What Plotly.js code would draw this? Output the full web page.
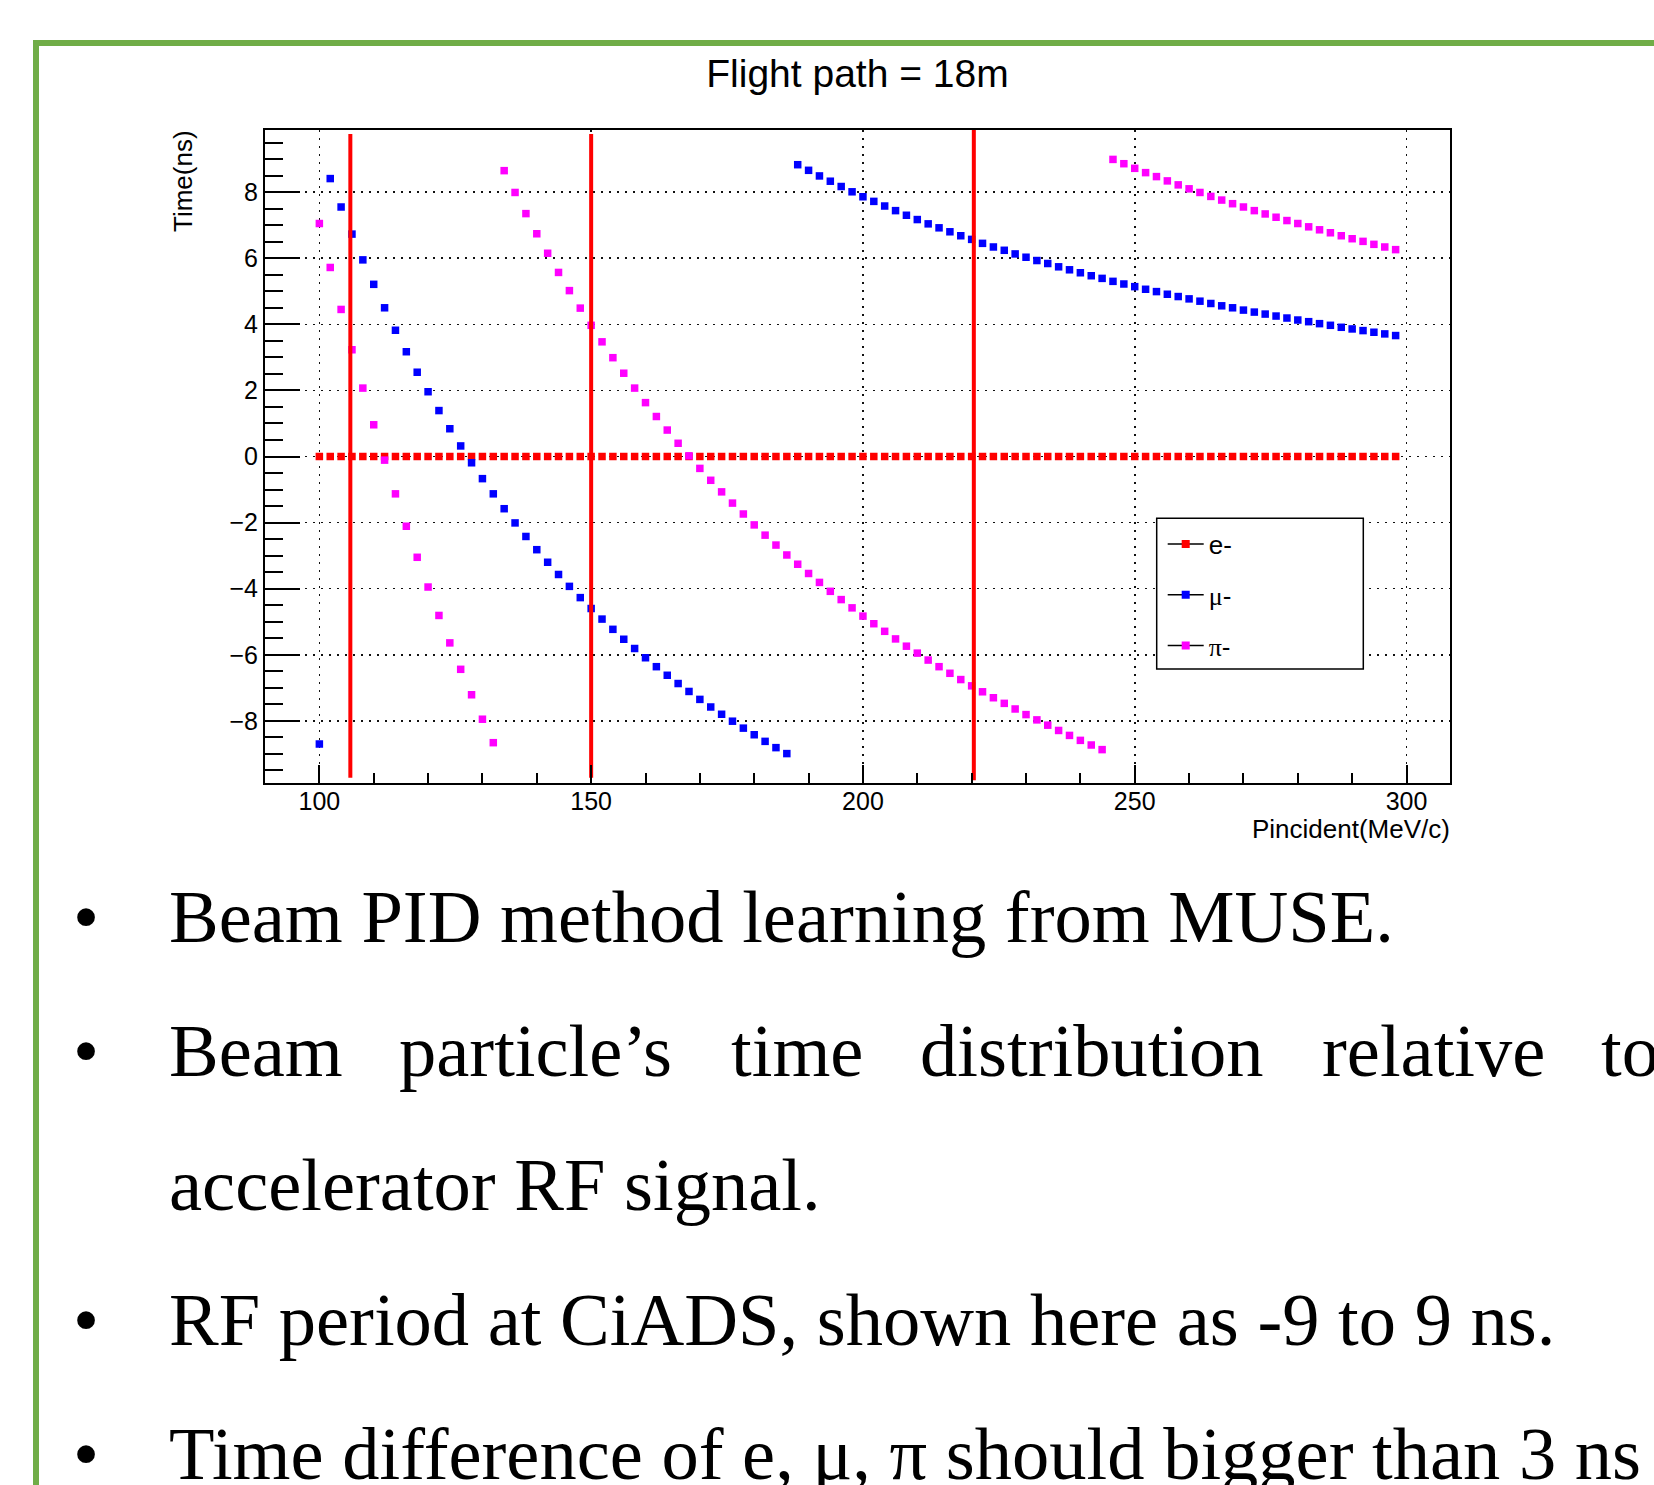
<!DOCTYPE html>
<html>
<head>
<meta charset="utf-8">
<script src="https://cdn.plot.ly/plotly-3.0.1.min.js"></script>
<style>
html,body{margin:0;padding:0;background:#fff;}
#chart{width:1654px;height:1485px;}
</style>
</head>
<body>
<div id="chart"></div>
<script>
// ---------------- data ----------------
const momentum = [100,102,104,106,108,110,112,114,116,118,
                  120,122,124,126,128,130,132,134,136,138,
                  140,142,144,146,148,150,152,154,156,158,
                  160,162,164,166,168,170,172,174,176,178,
                  180,182,184,186,188,190,192,194,196,198,
                  200,202,204,206,208,210,212,214,216,218,
                  220,222,224,226,228,230,232,234,236,238,
                  240,242,244,246,248,250,252,254,256,258,
                  260,262,264,266,268,270,272,274,276,278,
                  280,282,284,286,288,290,292,294,296,298];

const timeElectron = [0,0,0,0,0,0,0,0,0,0,
                      0,0,0,0,0,0,0,0,0,0,
                      0,0,0,0,0,0,0,0,0,0,
                      0,0,0,0,0,0,0,0,0,0,
                      0,0,0,0,0,0,0,0,0,0,
                      0,0,0,0,0,0,0,0,0,0,
                      0,0,0,0,0,0,0,0,0,0,
                      0,0,0,0,0,0,0,0,0,0,
                      0,0,0,0,0,0,0,0,0,0,
                      0,0,0,0,0,0,0,0,0,0];

const timeMuon = [-8.70, 8.41, 7.55, 6.73, 5.95, 5.21, 4.50, 3.82, 3.17, 2.55,
                  1.96, 1.39, 0.84, 0.32, -0.19, -0.67, -1.13, -1.58, -2.01, -2.42,
                  -2.82, -3.20, -3.57, -3.93, -4.27, -4.60, -4.92, -5.23, -5.53, -5.81,
                  -6.09, -6.36, -6.62, -6.87, -7.11, -7.35, -7.58, -7.80, -8.01, -8.22,
                  -8.42, -8.62, -8.81, -8.99, 8.83, 8.66, 8.49, 8.33, 8.17, 8.01,
                  7.86, 7.72, 7.58, 7.44, 7.30, 7.17, 7.04, 6.92, 6.80, 6.68,
                  6.57, 6.45, 6.34, 6.24, 6.13, 6.03, 5.93, 5.84, 5.74, 5.65,
                  5.56, 5.47, 5.39, 5.30, 5.22, 5.14, 5.06, 4.99, 4.91, 4.84,
                  4.77, 4.70, 4.63, 4.56, 4.50, 4.43, 4.37, 4.31, 4.25, 4.19,
                  4.13, 4.08, 4.02, 3.97, 3.91, 3.86, 3.81, 3.76, 3.71, 3.66];

const timePion = [7.05, 5.72, 4.45, 3.23, 2.07, 0.96, -0.11, -1.13, -2.11, -3.05,
                  -3.95, -4.81, -5.64, -6.44, -7.21, -7.95, -8.66, 8.65, 7.99, 7.35,
                  6.74, 6.15, 5.57, 5.02, 4.49, 3.97, 3.47, 2.99, 2.52, 2.07,
                  1.63, 1.21, 0.80, 0.40, 0.02, -0.36, -0.72, -1.07, -1.41, -1.74,
                  -2.07, -2.38, -2.68, -2.98, -3.26, -3.54, -3.81, -4.08, -4.33, -4.58,
                  -4.83, -5.06, -5.29, -5.52, -5.74, -5.95, -6.16, -6.36, -6.56, -6.75,
                  -6.94, -7.12, -7.30, -7.47, -7.64, -7.81, -7.97, -8.13, -8.29, -8.44,
                  -8.59, -8.73, -8.87, 8.99, 8.86, 8.72, 8.59, 8.47, 8.34, 8.22,
                  8.10, 7.99, 7.87, 7.76, 7.65, 7.55, 7.44, 7.34, 7.24, 7.14,
                  7.05, 6.95, 6.86, 6.77, 6.68, 6.59, 6.51, 6.42, 6.34, 6.26];

// vertical red marker lines
const cutX     = [105.7, 150, 220.4];
const cutYLow  = [-9.72, -9.72, -9.80];
const cutYHigh = [9.76, 9.76, 9.97];

const seriesNames = ['e-', '<span style="font-family:\'Liberation Serif\'">μ</span>-', '<span style="font-family:\'Liberation Serif\'">π</span>-'];
const seriesColors = ['#ff0000', '#0000ff', '#ff00ff'];

const chartTitle = 'Flight path = 18m';
const xTitle = 'Pincident(MeV/c)';
const yTitle = 'Time(ns)';

const bulletLine1 = 'Beam PID method learning from MUSE.';
const bulletLine2Words = ['Beam', 'particle’s', 'time', 'distribution', 'relative', 'to'];
const bulletLine3 = 'accelerator RF signal.';
const bulletLine4 = 'RF period at CiADS, shown here as -9 to 9 ns.';
const bulletLine5 = 'Time difference of e, μ, π should bigger than 3 ns';

// ---------------- geometry helpers (pixels -> paper) ----------------
const W = 1654, H = 1485, PL = 265, PR = 1450, PT = 130, PB = 783;
const X0 = 90, X1 = 308, Y0 = -9.88, Y1 = 9.88;
const fx = p => (p - PL) / (PR - PL);
const fy = p => (PB - p) / (PB - PT);
const dx = p => X0 + (p - PL) * (X1 - X0) / (PR - PL);
const dy = p => Y1 - (p - PT) * (Y1 - Y0) / (PB - PT);

const SERIF = '"Liberation Serif", "Times New Roman", serif';
const SANS = '"Liberation Sans", Arial, Helvetica, sans-serif';
const FS = 74.5;               // slide text size
const topOf = (baseline, fs, asc) => baseline - 2 - asc * fs;

// ---------------- traces ----------------
const traces = [];
const seriesY = [timeElectron, timeMuon, timePion];
const markerSize = [7.5, 7.5, 7.5];
seriesY.forEach((ys, i) => {
  traces.push({
    type: 'scatter', mode: 'markers', x: momentum, y: ys,
    marker: {symbol: 'square', size: markerSize[i], color: seriesColors[i], line: {width: 0}},
    showlegend: false, hoverinfo: 'x+y'
  });
});
cutX.forEach((xv, i) => {
  traces.push({
    type: 'scatter', mode: 'lines', x: [xv, xv], y: [cutYLow[i], cutYHigh[i]],
    line: {color: '#ff0000', width: 4}, showlegend: false, hoverinfo: 'skip'
  });
});
// legend entries (line + marker as in the original legend)
seriesNames.forEach((nm, i) => {
  traces.push({
    type: 'scatter', mode: 'lines+markers', x: [null], y: [null], name: nm,
    legendgroup: 'g' + i,
    line: {color: '#000', width: 1.5},
    marker: {symbol: 'square', size: 8, color: seriesColors[i], line: {width: 0}}
  });
});

// ---------------- annotations ----------------
const ann = [];
const textAnn = (txt, xLeft, baseline, extra) => Object.assign({
  text: txt, xref: 'paper', yref: 'paper', x: fx(xLeft - 2), y: fy(topOf(baseline, FS, 0.891)),
  xanchor: 'left', yanchor: 'top', showarrow: false,
  font: {family: SERIF, size: FS, color: '#000'}
}, extra || {});

const bulletX = 73;
const textX = 169;
const baselines = [942, 1076, 1210, 1345, 1479];

ann.push(textAnn('•', bulletX, baselines[0]));
ann.push(textAnn(bulletLine1, textX, baselines[0]));
ann.push(textAnn('•', bulletX, baselines[1]));
const wordLefts = [169, 399, 731, 920, 1322, 1601];
bulletLine2Words.forEach((w, i) => ann.push(textAnn(w, wordLefts[i], baselines[1])));
ann.push(textAnn(bulletLine3, textX, baselines[2]));
ann.push(textAnn('•', bulletX, baselines[3]));
ann.push(textAnn(bulletLine4, textX, baselines[3]));
ann.push(textAnn('•', bulletX, baselines[4]));
ann.push(textAnn(bulletLine5, textX, baselines[4]));

// axis titles (ROOT style: y title at top, x title at right)
ann.push({
  text: yTitle, xref: 'paper', yref: 'paper', x: fx(183), y: fy(128),
  xanchor: 'center', yanchor: 'top', textangle: -90, showarrow: false,
  font: {family: SANS, size: 26, color: '#000'}
});
ann.push({
  text: xTitle, xref: 'paper', yref: 'paper', x: fx(1452), y: fy(topOf(837.5, 26, 0.905)),
  xanchor: 'right', yanchor: 'top', showarrow: false,
  font: {family: SANS, size: 26, color: '#000'}
});

// ---------------- layout ----------------
const gridDash = '2px,6px';
const layout = {
  width: W, height: H,
  margin: {l: PL, r: W - PR, t: PT, b: H - PB, pad: 0},
  paper_bgcolor: '#ffffff', plot_bgcolor: '#ffffff',
  font: {family: SANS, color: '#000'},
  title: {
    text: chartTitle, font: {family: SANS, size: 39, color: '#000'},
    xref: 'paper', x: 0.5, xanchor: 'center',
    yref: 'container', y: 1 - 60 / H, yanchor: 'top'
  },
  xaxis: {
    range: [X0, X1], showline: true, linecolor: '#000', linewidth: 2, mirror: true,
    ticks: 'inside', ticklen: 18, tickwidth: 2, tickcolor: '#000',
    tick0: 0, dtick: 50, tickfont: {family: SANS, size: 25, color: '#000'},
    ticklabelstandoff: -5,
    showgrid: true, gridcolor: '#111', gridwidth: 1.6, griddash: gridDash,
    zeroline: false, automargin: false,
    minor: {ticks: 'inside', ticklen: 10, tickwidth: 2, tickcolor: '#000', dtick: 10, tick0: 0, showgrid: false}
  },
  yaxis: {
    range: [Y0, Y1], showline: true, linecolor: '#000', linewidth: 2, mirror: true,
    ticks: 'inside', ticklen: 35, tickwidth: 2, tickcolor: '#000',
    tick0: 0, dtick: 2, tickfont: {family: SANS, size: 25, color: '#000'},
    showgrid: true, gridcolor: '#111', gridwidth: 1.6, griddash: gridDash,
    zeroline: false, automargin: false,
    minor: {ticks: 'inside', ticklen: 18, tickwidth: 2, tickcolor: '#000', dtick: 0.5, tick0: 0, showgrid: false}
  },
  showlegend: true,
  legend: {
    x: fx(1162.7), y: fy(520.5), xanchor: 'left', yanchor: 'top',
    bgcolor: 'rgba(0,0,0,0)', borderwidth: 0,
    font: {family: SANS, size: 26, color: '#000'},
    traceorder: 'grouped', tracegroupgap: 14, itemwidth: 36
  },
  shapes: [
    // slide frame (green)
    {type: 'rect', xref: 'paper', yref: 'paper',
     x0: fx(36), y0: fy(43), x1: fx(1760), y1: fy(1640),
     line: {color: '#70AD47', width: 6}, fillcolor: 'rgba(0,0,0,0)', layer: 'above'},
    // legend frame
    {type: 'rect', xref: 'x', yref: 'y',
     x0: dx(1156.7), x1: dx(1363.3), y0: dy(518.3), y1: dy(669),
     line: {color: '#000', width: 1.5}, fillcolor: '#ffffff', layer: 'above'}
  ],
  annotations: ann
};

Plotly.newPlot('chart', traces, layout, {displayModeBar: false, staticPlot: true});
</script>
</body>
</html>
